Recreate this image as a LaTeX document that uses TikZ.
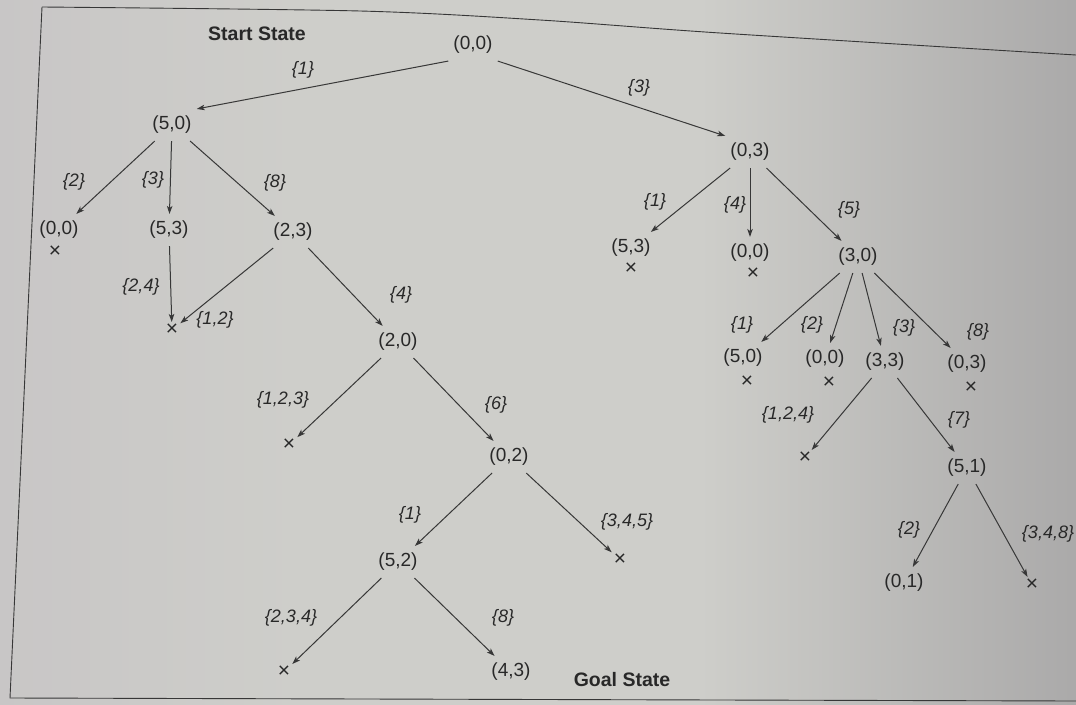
\documentclass[tikz,border=0pt]{standalone}
\usepackage{fontspec}
\setmainfont{Liberation Sans}
\usetikzlibrary{arrows.meta}
\definecolor{ink}{RGB}{40,40,40}
\definecolor{edgeink}{RGB}{55,55,55}
\definecolor{paperL}{RGB}{200,198,198}
\definecolor{paperM}{RGB}{206,206,202}
\definecolor{paperR}{RGB}{170,169,169}
\tikzset{
  st/.style={text=ink, font=\fontsize{19}{22}\selectfont, inner xsep=5pt, inner ysep=7pt},
  lbl/.style={text=ink, font=\fontsize{18}{21}\selectfont\itshape, inner sep=0pt},
  xx/.style={text=ink, font=\fontsize{21}{24}\selectfont, inner sep=2pt},
  title/.style={text=ink, font=\fontsize{19.5}{23}\selectfont\bfseries, inner sep=0pt},
  arr/.style={draw=edgeink, line width=1pt, -{Stealth[length=8pt,width=5.5pt,inset=2pt]}},
  frame/.style={draw=edgeink, line width=0.9pt}
}
\begin{document}
\begin{tikzpicture}[x=1pt,y=-1pt]
\useasboundingbox (0,0) rectangle (1076,704);
\fill[paperM] (-6,-6) rectangle (1082,710);
\shade[left color=paperL, right color=paperM] (-6,-6) rectangle (300.5,710);
\shade[left color=paperM, right color=paperR] (699.5,-6) rectangle (1082,710);
% frame of the figure
\draw[frame] plot[smooth] coordinates {(42,7) (360,11) (540,20) (720,33) (1076,55)};
\draw[frame] (42,7) -- (10,698) -- (1076,701);

% titles
\node[title] (start) at (257,34) {Start State};
\node[title] (goal) at (622,680) {Goal State};

% nodes
\node[st] (r) at (473,45) {(0,0)};
\node[st] (a) at (172,125) {(5,0)};
\node[st] (b) at (750,152) {(0,3)};
% left subtree
\node[st] (a1) at (59,230) {(0,0)};
\node[xx] (a1x) at (55,252) {×};
\node[st] (a2) at (169,230) {(5,3)};
\node[st] (a3) at (293,232) {(2,3)};
\node[xx] (a2x) at (172,330) {×};
\node[st] (c) at (398,342) {(2,0)};
\node[xx] (cx) at (289,445) {×};
\node[st] (d) at (509,457) {(0,2)};
\node[st] (e) at (398,562) {(5,2)};
\node[xx] (dx) at (620,560) {×};
\node[xx] (ex) at (284,672) {×};
\node[st] (g) at (511,672) {(4,3)};
% right subtree
\node[st] (b1) at (631,248) {(5,3)};
\node[xx] (b1x) at (631,269) {×};
\node[st] (b2) at (750,253) {(0,0)};
\node[xx] (b2x) at (753,274) {×};
\node[st] (f) at (858,257) {(3,0)};
\node[st] (f1) at (743,358) {(5,0)};
\node[xx] (f1x) at (747,382) {×};
\node[st] (f2) at (825,359) {(0,0)};
\node[xx] (f2x) at (829,383) {×};
\node[st] (f3) at (885,362) {(3,3)};
\node[st] (f4) at (967,364) {(0,3)};
\node[xx] (f4x) at (971,388) {×};
\node[xx] (hx) at (805,458) {×};
\node[st] (h) at (967,468) {(5,1)};
\node[st] (k) at (904,583) {(0,1)};
\node[xx] (kx) at (1032,585) {×};

% edges
\draw[arr] (r.south west) -- (a.north east);
\draw[arr] (r.south east) -- (b.north west);
\draw[arr] (a) -- (a1);
\draw[arr] (a) -- (a2);
\draw[arr] (a) -- (a3);
\draw[arr] (a2) -- (a2x);
\draw[arr] (a3) -- (a2x);
\draw[arr] (a3) -- (c);
\draw[arr] (c) -- (cx);
\draw[arr] (c) -- (d);
\draw[arr] (d) -- (e);
\draw[arr] (d) -- (dx);
\draw[arr] (e) -- (ex);
\draw[arr] (e) -- (g);
\draw[arr] (b) -- (b1);
\draw[arr] (b) -- (b2);
\draw[arr] (b) -- (f);
\draw[arr] (f) -- (f1);
\draw[arr] (f) -- (f2);
\draw[arr] (f) -- (f3);
\draw[arr] (f) -- (f4);
\draw[arr] (f3) -- (hx);
\draw[arr] (f3) -- (h);
\draw[arr] (h) -- (k);
\draw[arr] (h) -- (kx);

% edge labels
\node[lbl] (l1) at (303,70) {\{1\}};
\node[lbl] (l2) at (639,88) {\{3\}};
\node[lbl] (l3) at (74,182) {\{2\}};
\node[lbl] (l4) at (153,180) {\{3\}};
\node[lbl] (l5) at (275,183) {\{8\}};
\node[lbl] (l6) at (141,287) {\{2,4\}};
\node[lbl] (l7) at (215,320) {\{1,2\}};
\node[lbl] (l8) at (401,295) {\{4\}};
\node[lbl] (l9) at (283,400) {\{1,2,3\}};
\node[lbl] (l10) at (496,405) {\{6\}};
\node[lbl] (l11) at (410,515) {\{1\}};
\node[lbl] (l12) at (627,522) {\{3,4,5\}};
\node[lbl] (l13) at (291,618) {\{2,3,4\}};
\node[lbl] (l14) at (503,618) {\{8\}};
\node[lbl] (l15) at (655,202) {\{1\}};
\node[lbl] (l16) at (735,205) {\{4\}};
\node[lbl] (l17) at (849,210) {\{5\}};
\node[lbl] (l18) at (742,325) {\{1\}};
\node[lbl] (l19) at (812,325) {\{2\}};
\node[lbl] (l20) at (904,328) {\{3\}};
\node[lbl] (l21) at (978,332) {\{8\}};
\node[lbl] (l22) at (788,415) {\{1,2,4\}};
\node[lbl] (l23) at (959,420) {\{7\}};
\node[lbl] (l24) at (909,530) {\{2\}};
\node[lbl] (l25) at (1048,534) {\{3,4,8\}};
\end{tikzpicture}
\end{document}
